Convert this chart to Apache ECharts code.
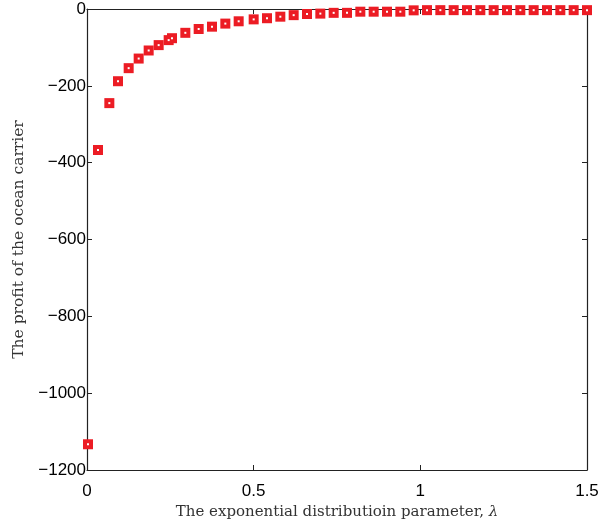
<!DOCTYPE html>
<html>
<head>
<meta charset="utf-8">
<script src="https://cdn.jsdelivr.net/npm/echarts@6/dist/echarts.min.js"></script>
<style>html,body{margin:0;padding:0;background:#fff;}#c{width:609px;height:525px;}</style>
</head>
<body>
<div id="c"></div>
<script>
var lambdaValues = [0.003, 0.033, 0.067, 0.093, 0.125, 0.155, 0.185, 0.215, 0.245, 0.255, 0.295, 0.335, 0.375, 0.415, 0.455,
  0.50, 0.54, 0.58, 0.62, 0.66, 0.70, 0.74, 0.78, 0.82, 0.86, 0.90, 0.94, 0.98, 1.02, 1.06, 1.10, 1.14, 1.18, 1.22, 1.26, 1.30, 1.34, 1.38, 1.42, 1.46, 1.50];
var profitValues = [-1133, -367, -245, -188, -154, -129, -108, -94, -81, -76, -62, -52, -46, -38, -32,
  -27, -24, -20, -16, -13, -12, -10, -10, -7, -7, -7, -7, -3.5, -3, -3, -3, -3, -3, -3, -3, -3, -3, -3, -3, -3, -3];
var xTicks = [0, 0.5, 1, 1.5];
var yTicks = [-1200, -1000, -800, -600, -400, -200, 0];
var xLabel = 'The exponential distributioin parameter, ';
var yLabel = 'The profit of the ocean carrier';

var pts = lambdaValues.map(function (l, i) { return [l, profitValues[i]]; });
var fmt = function (v) { return String(v).replace('-', '\u2212'); };
var axisCol = '#222';
var chart = echarts.init(document.getElementById('c'), null, { renderer: 'canvas' });
var common = {
  axisLine: { show: true, onZero: false, lineStyle: { color: axisCol, width: 1.2 } },
  axisTick: { show: true, inside: true, length: 5, lineStyle: { color: axisCol } },
  splitLine: { show: false }
};
var serif = 'DejaVu Serif';
chart.setOption({
  animation: false,
  grid: { left: 87, right: 22, top: 9, bottom: 55, outerBoundsMode: 'none', containLabel: false },
  xAxis: [
    Object.assign({
      type: 'value', min: 0, max: 1.5, interval: 0.5, position: 'bottom',
      axisLabel: { color: '#000', fontFamily: 'Liberation Sans', fontSize: 17, margin: 13, formatter: fmt },
      name: xLabel + '{i|\u03bb}', nameLocation: 'middle', nameGap: 28,
      nameTextStyle: { color: '#333', fontFamily: serif, fontSize: 15,
        rich: { i: { fontFamily: serif, fontStyle: 'italic', fontSize: 15, color: '#333' } } }
    }, common),
    Object.assign({ type: 'value', min: 0, max: 1.5, interval: 0.5, position: 'top', axisLabel: { show: false } }, common)
  ],
  yAxis: [
    Object.assign({
      type: 'value', min: -1200, max: 0, interval: 200, position: 'left',
      axisLabel: { color: '#000', fontFamily: 'Liberation Sans', fontSize: 17, margin: 1, formatter: fmt },
      name: yLabel, nameLocation: 'middle', nameGap: 57, nameRotate: 90,
      nameTextStyle: { color: '#333', fontFamily: serif, fontSize: 15.5 }
    }, common),
    Object.assign({ type: 'value', min: -1200, max: 0, interval: 200, position: 'right', axisLabel: { show: false } }, common)
  ],
  series: [
    { type: 'scatter', data: pts, symbol: 'rect', symbolSize: 10, clip: false, z: 3,
      itemStyle: { color: '#ec1c24', opacity: 1 } },
    { type: 'scatter', data: pts, symbol: 'rect', symbolSize: 2, clip: false, z: 4,
      itemStyle: { color: '#ffffff', opacity: 1 } }
  ]
});
</script>
</body>
</html>
